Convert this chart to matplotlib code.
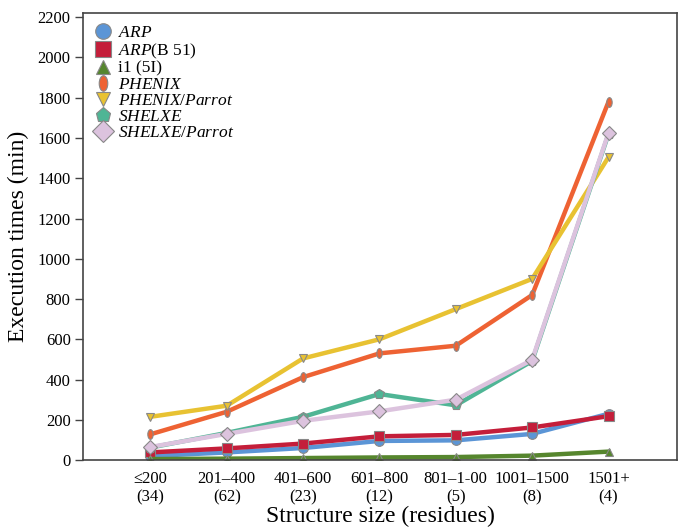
import matplotlib
matplotlib.use('Agg')
import matplotlib.pyplot as plt
from matplotlib.markers import MarkerStyle
from matplotlib.transforms import Affine2D

plt.rcParams['font.family'] = 'Liberation Serif'
plt.rcParams['mathtext.fontset'] = 'custom'
plt.rcParams['mathtext.rm'] = 'Liberation Serif'
plt.rcParams['mathtext.it'] = 'Liberation Serif:italic'

# categories (structure size, number of structures)
sizes = ['≤200', '201–400', '401–600', '601–800', '801–1-00', '1001–1500', '1501+']
counts = ['(34)', '(62)', '(23)', '(12)', '(5)', '(8)', '(4)']

# execution times (min)
arp = [20, 38, 60, 95, 98, 130, 230]
arp_b51 = [38, 58, 82, 118, 125, 162, 218]
i1 = [5, 7, 10, 13, 15, 22, 42]
phenix = [128, 240, 412, 530, 568, 820, 1780]
phenix_parrot = [215, 270, 505, 600, 750, 900, 1505]
shelxe = [62, 135, 215, 328, 272, 492, 1620]
shelxe_parrot = [65, 130, 195, 242, 300, 498, 1625]

ellipse = MarkerStyle('o', transform=Affine2D().scale(0.55, 1))

series = [
    (r'$\it{ARP}$', arp, '#5b95d6', 'o', 7),
    (r'$\it{ARP}$(B 51)', arp_b51, '#c41e3a', 's', 7),
    ('i1 (5I)', i1, '#56862e', '^', 6),
    (r'$\it{PHENIX}$', phenix, '#ee6233', ellipse, 7),
    (r'$\it{PHENIX/Parrot}$', phenix_parrot, '#e8c232', 'v', 6),
    (r'$\it{SHELXE}$', shelxe, '#4fb595', 'p', 7),
    (r'$\it{SHELXE/Parrot}$', shelxe_parrot, '#dcc3de', 'D', 7),
]

fig = plt.figure(figsize=(6.82, 5.27), dpi=100)
ax = fig.add_axes([0.122, 0.127, 0.871, 0.848])

x = list(range(len(sizes)))
for label, vals, col, mk, ms in series:
    ax.plot(x, vals, color=col, lw=3.2, marker=mk, ms=ms, mec='#888888', mew=0.8,
            label=label)

ax.set_xlim(-0.88, 6.9)
ax.set_ylim(0, 2220)
ax.set_yticks(range(0, 2201, 200))
ax.set_xticks(x)
ax.set_xticklabels([s + '\n' + c for s, c in zip(sizes, counts)], fontsize=12, linespacing=1.2)
ax.tick_params(axis='x', length=0, pad=8)
ax.tick_params(axis='y', direction='out', length=6, width=1, color='#444444', labelsize=12, pad=3)
for sp in ax.spines.values():
    sp.set_color('#444444')
    sp.set_linewidth(1.2)

ax.set_ylabel('Execution times (min)', fontsize=17, labelpad=6)
ax.set_xlabel('Structure size (residues)', fontsize=17, labelpad=0)

leg = ax.legend(loc='upper left', frameon=False, fontsize=12.5, markerscale=1.6,
                handlelength=0.9, handletextpad=0.4, labelspacing=0.0,
                borderaxespad=0.3, bbox_to_anchor=(0.0, 1.0))
for h in leg.legend_handles:
    h.set_linestyle('none')

fig.savefig('out.png', dpi=100)
